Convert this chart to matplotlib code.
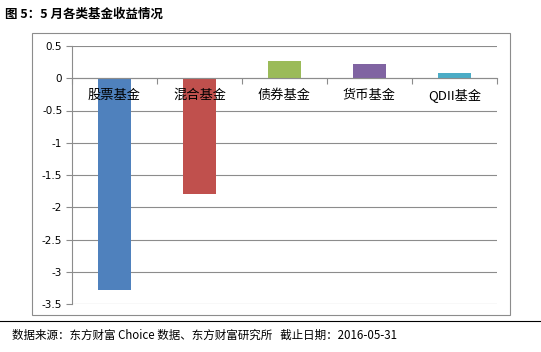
import matplotlib
matplotlib.use("Agg")
import matplotlib.pyplot as plt
from matplotlib.patches import Rectangle
from matplotlib.lines import Line2D

plt.rcParams['font.family'] = ['Noto Sans CJK SC', 'DejaVu Sans']

categories = ["股票基金", "混合基金", "债券基金", "货币基金", "QDII基金"]
values = [-3.28, -1.79, 0.26, 0.22, 0.08]
colors = ["#4F81BD", "#C0504D", "#9BBB59", "#8064A2", "#4BACC6"]
yticks = [0.5, 0, -0.5, -1, -1.5, -2, -2.5, -3, -3.5]
ytick_labels = ["0.5", "0", "-0.5", "-1", "-1.5", "-2", "-2.5", "-3", "-3.5"]
title = "图 5：5 月各类基金收益情况"
footer = "数据来源：东方财富 Choice 数据、东方财富研究所   截止日期：2016-05-31"

W, H = 541, 352
fig = plt.figure(figsize=(W/100, H/100), dpi=100)
fig.patch.set_facecolor("white")

# chart border
fig.patches.append(Rectangle((32/W, 1-315/H), (510-32)/W, (315-33)/H,
                             transform=fig.transFigure, fill=False,
                             edgecolor="#8c8c8c", linewidth=0.8))

ax = fig.add_axes([72/W, 1-304/H, (497-72)/W, (304-46)/H])
x = list(range(len(categories)))
ax.bar(x, values, width=0.39, color=colors, zorder=3)
ax.set_xlim(-0.5, len(categories)-0.5)
ax.set_ylim(-3.5, 0.5)
ax.set_yticks(yticks)
ax.set_yticklabels(ytick_labels, fontsize=7.5, family=['DejaVu Sans'])
ax.yaxis.grid(True, color="#8c8c8c", linewidth=0.8, zorder=0)
ax.tick_params(axis='y', length=4, color="#8c8c8c", pad=3)
for s in ['top', 'right']:
    ax.spines[s].set_visible(False)
ax.spines['left'].set_color("#8c8c8c")
ax.spines['bottom'].set_position(('data', 0))
ax.spines['bottom'].set_color("#8c8c8c")
ax.spines['bottom'].set_zorder(4)
ax.set_xticks([i+0.5 for i in range(-1, len(categories))])
ax.set_xticklabels([])
ax.tick_params(axis='x', length=4, color="#8c8c8c", direction='out')
for i, c in enumerate(categories):
    ax.text(i, -0.16, c, ha='center', va='top', fontsize=9.5, zorder=5)

fig.text(5/W, 1-14/H, title, fontsize=9, fontweight='bold', va='center', ha='left')
fig.lines.append(Line2D([0, 1], [1-321/H, 1-321/H], transform=fig.transFigure,
                        color="black", linewidth=0.8))
fig.text(12/W, 1-335/H, footer, fontsize=8.3, va='center', ha='left')

fig.savefig("out.png", dpi=100)
